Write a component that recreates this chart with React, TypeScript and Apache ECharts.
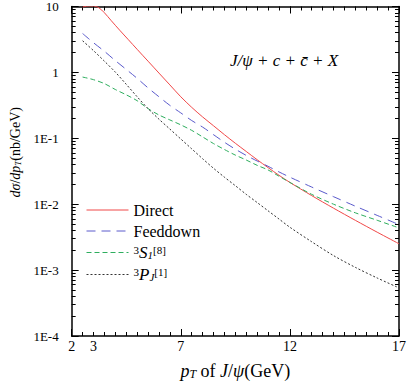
import React, { useEffect, useRef } from "react";
import * as echarts from "echarts";

const pTDirect = [2.5, 2.75, 3.0, 3.25, 3.5, 3.8, 4.2, 4.6, 5.0, 5.5, 6.0, 6.5, 7.0, 7.5, 8.0, 8.5, 9.0, 9.5, 10, 10.5, 11, 11.5, 12, 13, 14, 15, 16, 17];
const direct = [9.8, 10.2, 10.2, 9.55, 8.04, 6.17, 4.37, 3.13, 2.24, 1.48, 0.977, 0.646, 0.427, 0.295, 0.211, 0.155, 0.1135, 0.0841, 0.0631, 0.0473, 0.0359, 0.0275, 0.0214, 0.0135, 0.0087, 0.00569, 0.00376, 0.00251];

const pT = [2.5, 3.0, 3.5, 4.0, 4.5, 5.0, 5.5, 6.0, 6.5, 7.0, 7.5, 8.0, 8.5, 9.0, 9.5, 10, 10.5, 11, 11.5, 12, 13, 14, 15, 16, 17];
const feeddown = [3.89, 2.82, 2.09, 1.51, 1.11, 0.813, 0.582, 0.427, 0.316, 0.243, 0.186, 0.148, 0.1135, 0.0871, 0.0684, 0.055, 0.0452, 0.0376, 0.0309, 0.0257, 0.0182, 0.013, 0.00933, 0.00676, 0.0049];
const s1octet = [0.85, 0.776, 0.676, 0.55, 0.457, 0.372, 0.282, 0.226, 0.19, 0.16, 0.132, 0.105, 0.0832, 0.0676, 0.0556, 0.0468, 0.0389, 0.0331, 0.0266, 0.0214, 0.0141, 0.01, 0.0074, 0.0057, 0.00437];
const pjSinglet = [3.02, 2.14, 1.48, 1.01, 0.66, 0.427, 0.282, 0.195, 0.138, 0.0977, 0.0692, 0.049, 0.0351, 0.0257, 0.0191, 0.0141, 0.0106, 0.00794, 0.00596, 0.00447, 0.00269, 0.00166, 0.0011, 0.000759, 0.000537];

const xTickLabels = [2, 3, 7, 12, 17];
const yMajor = [1e-4, 1e-3, 1e-2, 1e-1, 1, 10];
const seriesNames = ["Direct", "Feeddown", "3S1[8]", "3PJ[1]"];

const yMinor: number[] = [];
for (let e = -4; e < 1; e++) {
  for (let m = 2; m <= 9; m++) yMinor.push(m * Math.pow(10, e));
}

const FONT = "Liberation Serif";

function yLabel(v: number): string {
  const e = Math.round(Math.log10(v));
  if (e === 1) return "10";
  if (e === 0) return "1";
  return "1E" + e;
}

export default function App() {
  const ref = useRef<HTMLDivElement>(null);
  useEffect(() => {
    if (!ref.current) return;
    const chart = echarts.init(ref.current, undefined, { renderer: "svg" });
    const axisLine = { show: true, lineStyle: { color: "#000", width: 1.5 } };
    const baseX = { type: "value" as const, min: 2, max: 17, splitLine: { show: false } };
    const baseY = { type: "log" as const, logBase: 10, min: 1e-4, max: 10, splitLine: { show: false } };
    const legendRich = {
      sub: { fontSize: 11, fontFamily: FONT, fontStyle: "italic", color: "#000", verticalAlign: "bottom", lineHeight: 16 },
      supn: { fontSize: 11, fontFamily: FONT, color: "#000", verticalAlign: "top", lineHeight: 16 },
      it: { fontSize: 17, fontFamily: FONT, fontStyle: "italic", color: "#000", lineHeight: 16 },
    };
    const xNameRich = {
      it: { fontFamily: FONT, fontStyle: "italic", fontSize: 18, color: "#000" },
      r: { fontFamily: FONT, fontSize: 18, color: "#000" },
      sub: { fontFamily: FONT, fontStyle: "italic", fontSize: 12, color: "#000", verticalAlign: "bottom", padding: [7, 0, 0, 0] },
    };
    const yNameRich = {
      it: { fontFamily: FONT, fontStyle: "italic", fontSize: 14, color: "#000" },
      r: { fontFamily: FONT, fontSize: 14, color: "#000" },
      sub: { fontFamily: FONT, fontStyle: "italic", fontSize: 9, color: "#000", verticalAlign: "bottom", padding: [6, 0, 0, 0] },
    };
    chart.setOption({
      animation: false,
      textStyle: { fontFamily: FONT },
      grid: { left: 63, right: 10, top: 6, bottom: 43, containLabel: false },
      legend: {
        data: seriesNames,
        orient: "vertical",
        left: 86,
        top: 202,
        padding: 0,
        itemGap: 5,
        itemWidth: 42,
        itemHeight: 14,
        itemStyle: { opacity: 0 },
        lineStyle: { width: 1 },
        textStyle: { fontFamily: FONT, fontSize: 16, color: "#000", lineHeight: 16, rich: legendRich },
        formatter: (name: string) => {
          if (name === "3S1[8]") return "{supn|3}{it|S}{sub|1}{supn|[8]}";
          if (name === "3PJ[1]") return "{supn|3}{it|P}{sub|J}{supn|[1]}";
          return name;
        },
      },
      xAxis: [
        {
          ...baseX,
          position: "bottom",
          interval: 0.5,
          axisLine,
          axisTick: { show: true, inside: true, length: 4, lineStyle: { color: "#000" } },
          axisLabel: {
            show: true,
            margin: 3,
            fontFamily: FONT,
            fontSize: 14,
            color: "#000",
            showMinLabel: true,
            showMaxLabel: true,
            formatter: (v: number) => (xTickLabels.includes(v) ? String(v) : ""),
          },
          name: "{it|p}{sub|T}{r| of }{it|J}{r|/}{it|ψ}{r|(GeV)}",
          nameLocation: "middle",
          nameGap: 25,
          nameTextStyle: { fontFamily: FONT, fontSize: 18, color: "#000", rich: xNameRich },
        },
        {
          ...baseX,
          position: "bottom",
          interval: 5,
          axisLine: { show: false },
          axisTick: { show: true, inside: true, length: 7, lineStyle: { color: "#000" } },
          axisLabel: { show: false },
        },
        {
          ...baseX,
          position: "top",
          interval: 0.5,
          axisLine,
          axisTick: { show: true, inside: true, length: 4, lineStyle: { color: "#000" } },
          axisLabel: { show: false },
        },
        {
          ...baseX,
          position: "top",
          interval: 5,
          axisLine: { show: false },
          axisTick: { show: true, inside: true, length: 7, lineStyle: { color: "#000" } },
          axisLabel: { show: false },
        },
      ],
      yAxis: [
        {
          ...baseY,
          position: "left",
          axisLine,
          axisTick: { show: true, inside: true, length: 7, lineStyle: { color: "#000" }, customValues: yMajor },
          axisLabel: {
            show: true,
            margin: 13,
            fontFamily: FONT,
            fontSize: 13,
            color: "#000",
            customValues: yMajor,
            formatter: (v: number) => yLabel(v),
          },
          name: "{it|dσ}{r|/}{it|dp}{sub|T}{r|(nb/GeV)}",
          nameLocation: "middle",
          nameGap: 48,
          nameTextStyle: { fontFamily: FONT, fontSize: 14, color: "#000", padding: [0, 0, 0, 38], rich: yNameRich },
        },
        {
          ...baseY,
          position: "left",
          axisLine: { show: false },
          axisTick: { show: true, inside: true, length: 4, lineStyle: { color: "#000" }, customValues: yMinor },
          axisLabel: { show: false },
        },
        {
          ...baseY,
          position: "right",
          axisLine,
          axisTick: { show: true, inside: true, length: 7, lineStyle: { color: "#000" }, customValues: yMajor },
          axisLabel: { show: false },
        },
        {
          ...baseY,
          position: "right",
          axisLine: { show: false },
          axisTick: { show: true, inside: true, length: 4, lineStyle: { color: "#000" }, customValues: yMinor },
          axisLabel: { show: false },
        },
      ],
      graphic: [
        {
          type: "text",
          left: 230,
          top: 52,
          style: {
            text: "J/ψ + c + c̄ + X",
            font: "italic 17px " + FONT,
            fill: "#000",
          },
        },
      ],
      series: [
        {
          name: "Direct",
          type: "line",
          xAxisIndex: 0,
          yAxisIndex: 0,
          data: pTDirect.map((x, i) => [x, direct[i]]),
          symbol: "none",
          smooth: 0.3,
          clip: true,
          lineStyle: { color: "#f04848", width: 1, type: "solid" },
          itemStyle: { color: "#f04848" },
        },
        {
          name: "Feeddown",
          type: "line",
          xAxisIndex: 0,
          yAxisIndex: 0,
          data: pT.map((x, i) => [x, feeddown[i]]),
          symbol: "none",
          smooth: 0.3,
          lineStyle: { color: "#5a5acc", width: 1, type: [9, 6] },
          itemStyle: { color: "#5a5acc" },
        },
        {
          name: "3S1[8]",
          type: "line",
          xAxisIndex: 0,
          yAxisIndex: 0,
          data: pT.map((x, i) => [x, s1octet[i]]),
          symbol: "none",
          smooth: 0.3,
          lineStyle: { color: "#2eae5e", width: 1, type: [5, 3] },
          itemStyle: { color: "#2eae5e" },
        },
        {
          name: "3PJ[1]",
          type: "line",
          xAxisIndex: 0,
          yAxisIndex: 0,
          data: pT.map((x, i) => [x, pjSinglet[i]]),
          symbol: "none",
          smooth: 0.3,
          lineStyle: { color: "#333333", width: 1, type: [2, 2] },
          itemStyle: { color: "#333333" },
        },
      ],
    });
    return () => chart.dispose();
  }, []);
  return (
    <div
      ref={ref}
      style={{ position: "fixed", left: 0, top: 0, width: 409, height: 385, background: "#fff" }}
    />
  );
}
